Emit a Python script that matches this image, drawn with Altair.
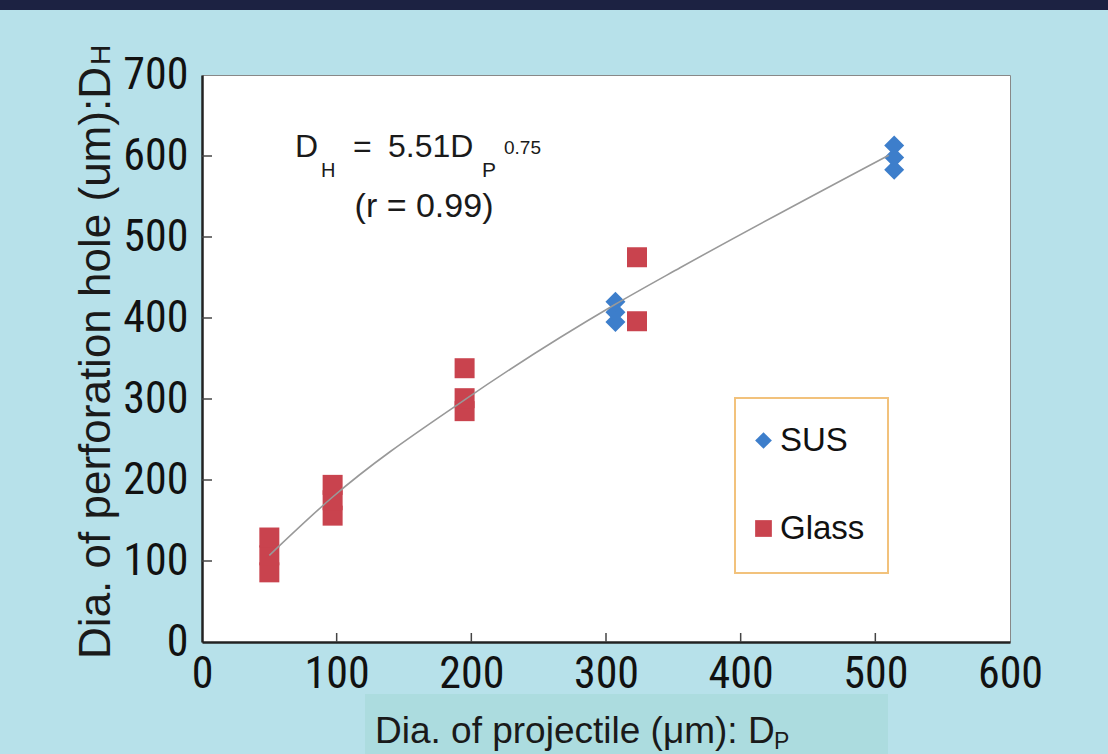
import altair as alt
import pandas as pd

# ---- data ----
glass_x = [50, 50, 50, 97, 97, 97, 195, 195, 195, 323, 323]
glass_y = [86, 107, 129, 156, 175, 194, 285, 301, 338, 396, 475]
sus_x = [307, 307, 307, 514, 514, 514]
sus_y = [395, 407, 420, 583, 598, 613]
fit_x = [50, 97, 195, 306, 355, 510]
fit_y = [107, 179, 299, 416, 462, 601]
x_ticks = [100, 200, 300, 400, 500]
y_ticks = [100, 200, 300, 400, 500, 600]
x_labels = [0, 100, 200, 300, 400, 500, 600]
y_labels = [0, 100, 200, 300, 400, 500, 600, 700]
materials = ["SUS", "Glass"]
colors = ["#3d7ecb", "#c9434e"]
shapes = ["diamond", "square"]

pts = pd.DataFrame({
    "dp": sus_x + glass_x,
    "dh": sus_y + glass_y,
    "Material": ["SUS"] * len(sus_x) + ["Glass"] * len(glass_x),
})
fit = pd.DataFrame({"dp": fit_x, "dh": fit_y})

W, H = 808, 567
XFONT = "Liberation Sans Narrow, Arial Narrow, Roboto Condensed, DejaVu Sans Condensed, sans-serif"
FONT = "Liberation Sans, Arial, sans-serif"
xs = alt.Scale(domain=[0, 600], nice=False, zero=False)
ys = alt.Scale(domain=[0, 700], nice=False, zero=False)

axis_common = dict(labelFont=XFONT, labelFontSize=44, labelColor="#111111",
                   tickSize=0, domainColor="#222222", domainWidth=2.5,
                   grid=False, title=None, labelFlush=False, labelOverlap=False)
xax = alt.Axis(values=x_labels, labelPadding=10, **axis_common)
yax = alt.Axis(values=y_labels, labelPadding=14, **axis_common)

# legend frame (drawn as a box behind the legend)
legend_box = alt.Chart(alt.Data(values=[{"a": 1}])).mark_rect(
    fill="white", stroke="#f2c27c", strokeWidth=2).encode(
    x=alt.value(533), x2=alt.value(686), y=alt.value(323), y2=alt.value(498))

points = alt.Chart(pts).mark_point(filled=True, size=400, opacity=1).encode(
    x=alt.X("dp:Q", scale=xs, axis=xax),
    y=alt.Y("dh:Q", scale=ys, axis=yax),
    color=alt.Color("Material:N", scale=alt.Scale(domain=materials, range=colors),
                    legend=alt.Legend(orient="none", legendX=545, legendY=349, title=None,
                                      labelFont=FONT, labelFontSize=33, labelColor="#111111",
                                      symbolSize=280, padding=0, rowPadding=54,
                                      labelOffset=0, symbolStrokeWidth=0, direction="vertical")),
    shape=alt.Shape("Material:N", scale=alt.Scale(domain=materials, range=shapes)),
)

line = alt.Chart(fit).mark_line(color="#999999", strokeWidth=1.6, interpolate="monotone").encode(
    x=alt.X("dp:Q", scale=xs, axis=xax),
    y=alt.Y("dh:Q", scale=ys, axis=yax),
)

xt = alt.Chart(pd.DataFrame({"dp": x_ticks})).mark_rule(color="#444444", strokeWidth=1.5).encode(
    x=alt.X("dp:Q", scale=xs, axis=xax), y=alt.value(H), y2=alt.value(H - 9))
yt = alt.Chart(pd.DataFrame({"dh": y_ticks})).mark_rule(color="#444444", strokeWidth=1.5).encode(
    y=alt.Y("dh:Q", scale=ys, axis=yax), x=alt.value(0), x2=alt.value(10))


def txt(s, x, y, size, align="left", angle=0, font=FONT):
    kw = dict(align=align, baseline="alphabetic", fontSize=size, font=font, color="#1a1a1a")
    if angle:
        kw["angle"] = angle
    return alt.Chart(alt.Data(values=[{"t": s}])).mark_text(**kw).encode(
        x=alt.value(x), y=alt.value(y), text="t:N")


top_band = alt.Chart(alt.Data(values=[{"a": 1}])).mark_rect(color="#1c2242").encode(
    x=alt.value(-202), x2=alt.value(906), y=alt.value(-75), y2=alt.value(-65))
xbox = alt.Chart(alt.Data(values=[{"a": 1}])).mark_rect(color="#acdcdf").encode(
    x=alt.value(163), x2=alt.value(686), y=alt.value(619), y2=alt.value(679))

texts = [
    txt("D", 93, 82, 32),
    txt("H", 119, 102, 20),
    txt("=", 151, 82, 32),
    txt("5.51D", 186, 82, 32),
    txt("P", 280, 102, 21),
    txt("0.75", 302, 79, 19),
    txt("(r = 0.99)", 222, 142, 34, align="center"),
    txt("Dia. of perforation hole (um):D", -92, 288, 44, align="center", angle=270),
    txt("H", -92, -10, 28, angle=270),
    txt("Dia. of projectile (μm): D", 173, 668, 37),
    txt("P", 572, 674, 23),
]

chart = alt.layer(top_band, xbox, legend_box, points, line, xt, yt, *texts).properties(
    width=W, height=H,
    autosize=alt.AutoSizeParams(type="none"),
    padding={"left": 202, "top": 75, "right": 98, "bottom": 112},
    background="#b7e1ea",
).configure_view(fill="white", stroke="#888888", strokeWidth=1)

chart.save("out.html", embed_options={"renderer": "svg", "actions": False})
